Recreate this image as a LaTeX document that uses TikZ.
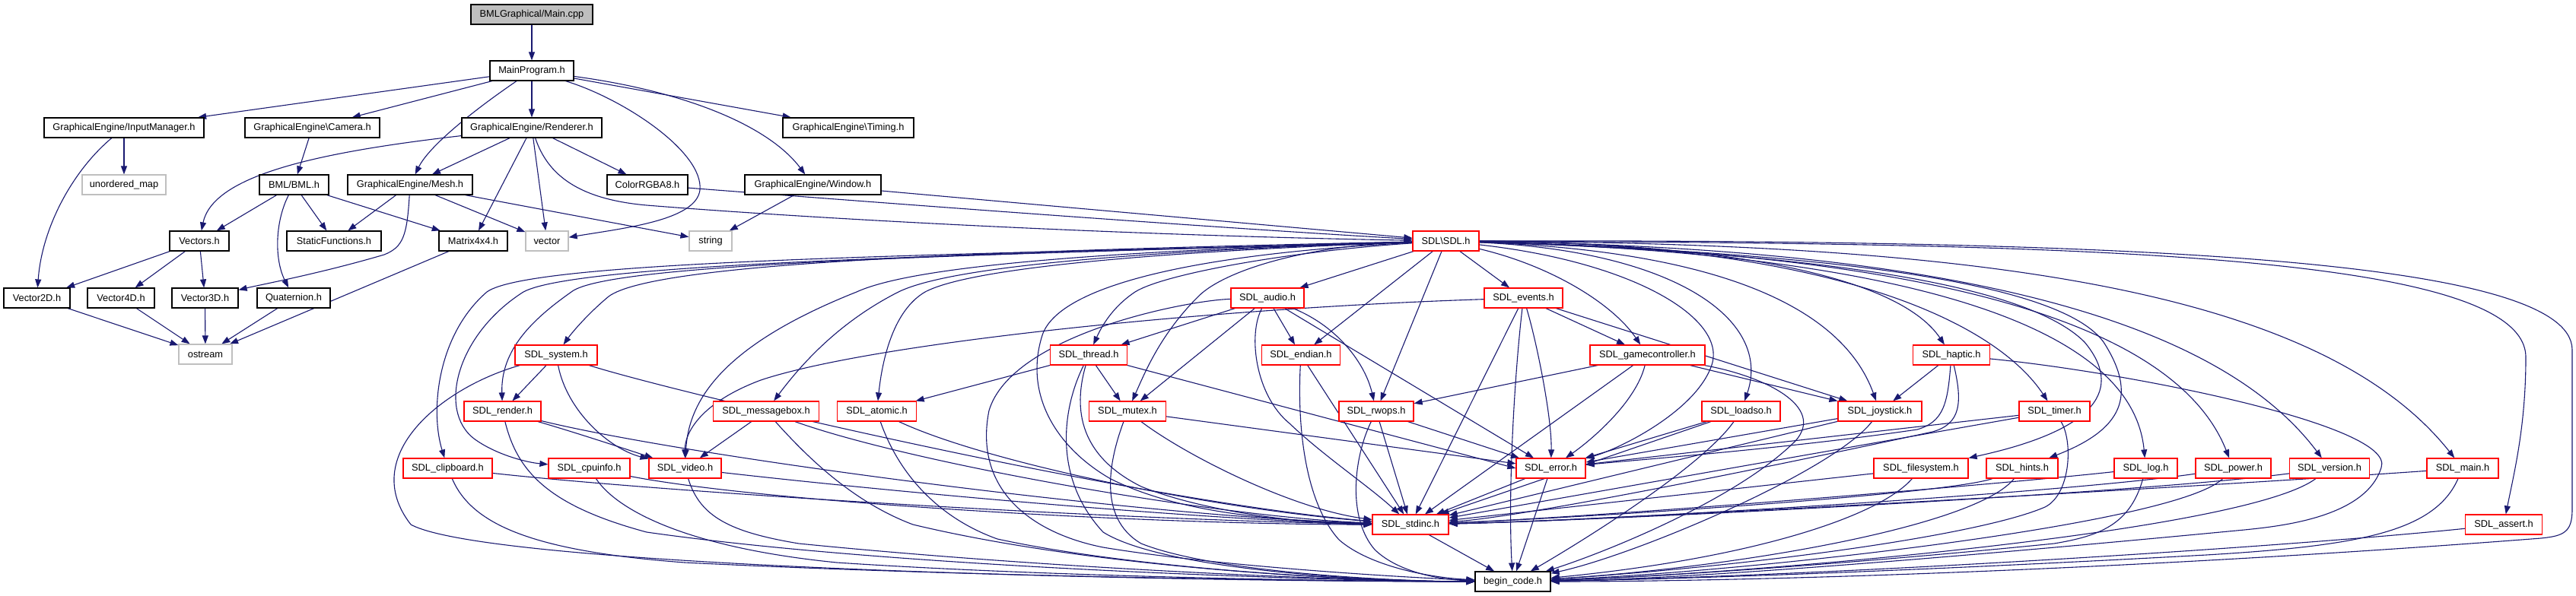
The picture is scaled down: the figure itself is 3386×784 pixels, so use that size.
\documentclass[tikz,border=0pt]{standalone}
\usepackage{fontspec}
\setmainfont{Liberation Sans}
\usetikzlibrary{arrows.meta,backgrounds}
\definecolor{edgec}{RGB}{25,25,112}
\definecolor{grayb}{RGB}{191,191,191}
\definecolor{redb}{RGB}{255,0,0}
\begin{document}
\begin{tikzpicture}[x=1pt,y=-1pt,
  nb/.style={draw=black,line width=1.2pt,fill=white,minimum height=26pt,inner sep=0pt,font=\fontsize{12.8pt}{15pt}\selectfont},
  rb/.style={nb,draw=redb},
  gb/.style={nb,draw=grayb},
  rootb/.style={nb,fill=grayb},
  wd/.style={minimum width=#1pt},
  e/.style={draw=edgec,line width=1.1pt,-{Triangle[length=11pt,width=8pt]}},
]
\useasboundingbox (0,0) rectangle (3386,784);
% ---- nodes ----
\node[rootb,wd=160] (root) at (699,19) {BMLGraphical/Main.cpp};
\node[nb,wd=110] (mp) at (699,93) {MainProgram.h};
\node[nb,wd=210] (inp) at (163,168) {GraphicalEngine/InputManager.h};
\node[nb,wd=177] (cam) at (410.5,168) {GraphicalEngine\textbackslash{}Camera.h};
\node[nb,wd=184] (ren) at (699,168) {GraphicalEngine/Renderer.h};
\node[nb,wd=172] (tim) at (1115,168) {GraphicalEngine\textbackslash{}Timing.h};
\node[gb,wd=110] (umap) at (163,243) {unordered\_map};
\node[nb,wd=91] (bml) at (386.5,243) {BML/BML.h};
\node[nb,wd=164] (mesh) at (539,243) {GraphicalEngine/Mesh.h};
\node[nb,wd=106] (col) at (851,243) {ColorRGBA8.h};
\node[nb,wd=179] (win) at (1068.5,243) {GraphicalEngine/Window.h};
\node[nb,wd=78] (vecs) at (262,317) {Vectors.h};
\node[nb,wd=124] (stat) at (439,317) {StaticFunctions.h};
\node[nb,wd=90] (mat) at (622,317) {Matrix4x4.h};
\node[gb,wd=56] (vec) at (719,317) {vector};
\node[gb,wd=56] (str) at (934,317) {string};
\node[rb,wd=87] (sdl) at (1900.5,317) {SDL\textbackslash{}SDL.h};
\node[nb,wd=87] (v2) at (48.5,392) {Vector2D.h};
\node[nb,wd=88] (v4) at (159,392) {Vector4D.h};
\node[nb,wd=87] (v3) at (269.5,392) {Vector3D.h};
\node[nb,wd=96] (quat) at (386,392) {Quaternion.h};
\node[gb,wd=70] (ostr) at (270,466) {ostream};
\node[rb,wd=96] (audio) at (1666,392) {SDL\_audio.h};
\node[rb,wd=103] (events) at (2002.5,392) {SDL\_events.h};
\node[rb,wd=108] (sys) at (731,467) {SDL\_system.h};
\node[rb,wd=101] (thread) at (1431,467) {SDL\_thread.h};
\node[rb,wd=103] (endian) at (1710,467) {SDL\_endian.h};
\node[rb,wd=151] (gc) at (2165.5,467) {SDL\_gamecontroller.h};
\node[rb,wd=101] (haptic) at (2565,467) {SDL\_haptic.h};
\node[rb,wd=101] (render) at (660.5,541) {SDL\_render.h};
\node[rb,wd=139] (msg) at (1007,541) {SDL\_messagebox.h};
\node[rb,wd=104] (atomic) at (1152.5,541) {SDL\_atomic.h};
\node[rb,wd=101] (mutex) at (1482,541) {SDL\_mutex.h};
\node[rb,wd=98] (rwops) at (1809,541) {SDL\_rwops.h};
\node[rb,wd=103] (loadso) at (2288.5,541) {SDL\_loadso.h};
\node[rb,wd=110] (joy) at (2471,541) {SDL\_joystick.h};
\node[rb,wd=93] (timer) at (2700.5,541) {SDL\_timer.h};
\node[rb,wd=117] (clip) at (588.5,616) {SDL\_clipboard.h};
\node[rb,wd=107] (cpu) at (774.5,616) {SDL\_cpuinfo.h};
\node[rb,wd=95] (video) at (900.5,616) {SDL\_video.h};
\node[rb,wd=91] (error) at (2038.5,616) {SDL\_error.h};
\node[rb,wd=124] (fs) at (2525,616) {SDL\_filesystem.h};
\node[rb,wd=94] (hints) at (2658,616) {SDL\_hints.h};
\node[rb,wd=83] (log) at (2820.5,616) {SDL\_log.h};
\node[rb,wd=99] (power) at (2935.5,616) {SDL\_power.h};
\node[rb,wd=105] (version) at (3062,616) {SDL\_version.h};
\node[rb,wd=94] (main) at (3237,616) {SDL\_main.h};
\node[rb,wd=100] (stdinc) at (1854,690) {SDL\_stdinc.h};
\node[rb,wd=101] (assert) at (3291,690) {SDL\_assert.h};
\node[nb,wd=99] (bc) at (1988.5,765) {begin\_code.h};
% ---- edges ----
\begin{pgfonlayer}{background}
\draw[e] (root) -- (mp);
\draw[e] (mp) -- (inp);
\draw[e] (mp) -- (cam);
\draw[e] (mp) -- (ren);
\draw[e] (mp) -- (tim);
\draw[e] (mp) .. controls (630,140) and (565,190) .. (mesh);
\draw[e] (mp) .. controls (900,120) and (1010,165) .. (win);
\draw[e] (mp) .. controls (820,130) and (925,200) .. (920,250) .. controls (915,290) and (820,300) .. (vec);
\draw[e] (inp) -- (umap);
\draw[e] (inp) .. controls (95,225) and (55,300) .. (v2);
\draw[e] (cam) -- (bml);
\draw[e] (ren) .. controls (420,200) and (280,230) .. (vecs);
\draw[e] (ren) -- (mesh);
\draw[e] (ren) -- (mat);
\draw[e] (ren) -- (vec);
\draw[e] (ren) -- (col);
\draw[e] (ren) .. controls (720,230) and (760,262) .. (850,270) .. controls (1100,290) and (1500,310) .. (sdl);
\draw[e] (bml) -- (vecs);
\draw[e] (bml) -- (stat);
\draw[e] (bml) -- (mat);
\draw[e] (bml) .. controls (362,290) and (360,340) .. (quat);
\draw[e] (mesh) -- (stat);
\draw[e] (mesh) .. controls (535,310) and (530,325) .. (505,335) .. controls (420,360) and (340,375) .. (v3);
\draw[e] (mesh) -- (vec);
\draw[e] (mesh) -- (str);
\draw[e] (col) .. controls (1200,270) and (1600,300) .. (sdl);
\draw[e] (win) -- (sdl);
\draw[e] (win) -- (str);
\draw[e] (vecs) -- (v2);
\draw[e] (vecs) -- (v4);
\draw[e] (vecs) -- (v3);
\draw[e] (v2) -- (ostr);
\draw[e] (v4) -- (ostr);
\draw[e] (v3) -- (ostr);
\draw[e] (quat) -- (ostr);
\draw[e] (mat) -- (ostr);
% SDL.h fan
\draw[e] (sdl) -- (audio);
\draw[e] (sdl) -- (endian);
\draw[e] (sdl) -- (rwops);
\draw[e] (sdl) -- (events);
\draw[e] (sdl) .. controls (2040,350) and (2120,400) .. (gc);
\draw[e] (sdl) .. controls (2150,345) and (2270,420) .. (2250,480) .. controls (2230,540) and (2130,590) .. (error);
\draw[e] (sdl) .. controls (2200,330) and (2330,420) .. (loadso);
\draw[e] (sdl) .. controls (2250,330) and (2420,400) .. (joy);
\draw[e] (sdl) .. controls (2300,320) and (2500,370) .. (haptic);
\draw[e] (sdl) .. controls (2400,320) and (2620,420) .. (timer);
\draw[e] (sdl) .. controls (2300,330) and (2650,360) .. (2740,450) .. controls (2790,510) and (2760,565) .. (fs);
\draw[e] (sdl) .. controls (2320,330) and (2700,360) .. (2765,450) .. controls (2810,520) and (2790,565) .. (hints);
\draw[e] (sdl) .. controls (2400,330) and (2800,400) .. (log);
\draw[e] (sdl) .. controls (2450,330) and (2850,400) .. (power);
\draw[e] (sdl) .. controls (2500,325) and (2900,400) .. (version);
\draw[e] (sdl) .. controls (2600,320) and (3050,380) .. (main);
\draw[e] (sdl) .. controls (2700,320) and (3320,330) .. (3320,470) .. controls (3320,560) and (3305,620) .. (assert);
\draw[e] (sdl) .. controls (2800,315) and (3380,340) .. (3381,460) -- (3381,670) .. controls (3381,700) and (3370,705) .. (3340,708) .. controls (2800,750) and (2300,765) .. (bc);
\draw[e] (sdl) .. controls (1700,330) and (1530,360) .. (1492,384) .. controls (1465,402) and (1450,425) .. (thread);
\draw[e] (sdl) .. controls (1720,322) and (1610,355) .. (1575,390) .. controls (1525,440) and (1505,490) .. (mutex);
\draw[e] (sdl) .. controls (1550,330) and (1280,350) .. (1216,384) .. controls (1175,408) and (1160,470) .. (atomic);
\draw[e] (sdl) .. controls (1500,330) and (1250,350) .. (1181,384) .. controls (1110,420) and (1060,470) .. (msg);
\draw[e] (sdl) .. controls (1450,330) and (1200,350) .. (1126,384) .. controls (960,450) and (905,520) .. (video);
\draw[e] (sdl) .. controls (1300,330) and (860,345) .. (800,390) .. controls (770,415) and (750,440) .. (sys);
\draw[e] (sdl) .. controls (1300,335) and (800,345) .. (751,384) .. controls (700,420) and (658,460) .. (render);
\draw[e] (sdl) .. controls (1300,335) and (760,345) .. (688,384) .. controls (600,440) and (575,540) .. (623,577) .. controls (650,597) and (690,608) .. (cpu);
\draw[e] (sdl) .. controls (1300,335) and (700,340) .. (640,384) .. controls (575,440) and (565,540) .. (clip);
\draw[e] (sdl) .. controls (1550,335) and (1390,380) .. (1370,441) .. controls (1345,520) and (1390,590) .. (1460,630) .. controls (1560,680) and (1700,685) .. (stdinc);
% audio
\draw[e] (audio) -- (thread);
\draw[e] (audio) -- (mutex);
\draw[e] (audio) -- (endian);
\draw[e] (audio) .. controls (1760,430) and (1795,480) .. (rwops);
\draw[e] (audio) -- (error);
\draw[e] (audio) .. controls (1640,440) and (1650,520) .. (1695,557) .. controls (1740,600) and (1800,640) .. (stdinc);
\draw[e] (audio) .. controls (1560,395) and (1330,440) .. (1300,540) .. controls (1280,640) and (1350,700) .. (1450,720) .. controls (1600,745) and (1850,760) .. (bc);
% endian, rwops
\draw[e] (endian) -- (stdinc);
\draw[e] (endian) .. controls (1705,560) and (1715,660) .. (1760,710) .. controls (1800,745) and (1880,760) .. (bc);
\draw[e] (rwops) -- (error);
\draw[e] (rwops) -- (stdinc);
\draw[e] (rwops) .. controls (1780,600) and (1770,680) .. (1807,723) .. controls (1840,755) and (1900,763) .. (bc);
% events
\draw[e] (events) .. controls (1600,405) and (1150,450) .. (1000,500) .. controls (920,530) and (900,570) .. (video);
\draw[e] (events) -- (joy);
\draw[e] (events) -- (gc);
\draw[e] (events) .. controls (2020,450) and (2040,550) .. (error);
\draw[e] (events) -- (stdinc);
\draw[e] (events) .. controls (1990,500) and (1982,650) .. (bc);
% gamecontroller
\draw[e] (gc) -- (rwops);
\draw[e] (gc) -- (stdinc);
\draw[e] (gc) .. controls (2150,530) and (2090,580) .. (error);
\draw[e] (gc) -- (joy);
\draw[e] (gc) .. controls (2320,495) and (2400,535) .. (2360,580) .. controls (2280,660) and (2100,730) .. (bc);
% loadso, joystick
\draw[e] (loadso) -- (error);
\draw[e] (loadso) -- (stdinc);
\draw[e] (loadso) .. controls (2240,610) and (2100,700) .. (bc);
\draw[e] (joy) -- (error);
\draw[e] (joy) -- (stdinc);
\draw[e] (joy) .. controls (2410,620) and (2150,730) .. (bc);
% haptic
\draw[e] (haptic) -- (joy);
\draw[e] (haptic) .. controls (2560,530) and (2555,555) .. (2520,565) .. controls (2350,590) and (2150,605) .. (error);
\draw[e] (haptic) .. controls (2580,530) and (2577,558) .. (2540,568) .. controls (2300,620) and (2000,680) .. (stdinc);
\draw[e] (haptic) .. controls (2800,490) and (3150,560) .. (3130,615) .. controls (3110,680) and (3000,692) .. (2950,697) .. controls (2500,740) and (2200,762) .. (bc);
% timer
\draw[e] (timer) -- (error);
\draw[e] (timer) -- (stdinc);
\draw[e] (timer) .. controls (2725,580) and (2722,650) .. (2688,667) .. controls (2600,705) and (2300,745) .. (bc);
% filesystem, hints, log, power, version, main, assert
\draw[e] (fs) -- (stdinc);
\draw[e] (fs) .. controls (2470,680) and (2300,735) .. (bc);
\draw[e] (hints) .. controls (2560,650) and (2100,680) .. (stdinc);
\draw[e] (hints) .. controls (2600,690) and (2300,745) .. (bc);
\draw[e] (log) .. controls (2600,640) and (2100,680) .. (stdinc);
\draw[e] (log) .. controls (2800,690) and (2760,705) .. (2700,715) .. controls (2400,745) and (2150,760) .. (bc);
\draw[e] (power) .. controls (2700,650) and (2100,685) .. (stdinc);
\draw[e] (power) .. controls (2860,690) and (2300,752) .. (bc);
\draw[e] (version) .. controls (2800,650) and (2100,685) .. (stdinc);
\draw[e] (version) .. controls (2950,700) and (2300,755) .. (bc);
\draw[e] (main) .. controls (2900,640) and (2100,685) .. (stdinc);
\draw[e] (main) .. controls (3200,700) and (3100,718) .. (2900,730) .. controls (2500,752) and (2200,762) .. (bc);
\draw[e] (assert) .. controls (3000,720) and (2400,758) .. (bc);
% error, stdinc
\draw[e] (error) -- (stdinc);
\draw[e] (error) -- (bc);
\draw[e] (stdinc) -- (bc);
% thread, mutex
\draw[e] (thread) -- (atomic);
\draw[e] (thread) -- (mutex);
\draw[e] (thread.south east) -- (error.west);
\draw[e] (thread) .. controls (1410,540) and (1420,600) .. (1500,640) .. controls (1600,680) and (1750,690) .. (stdinc);
\draw[e] (thread) .. controls (1395,540) and (1385,630) .. (1450,700) .. controls (1530,750) and (1800,765) .. (bc);
\draw[e] (mutex) -- (error);
\draw[e] (mutex) .. controls (1560,600) and (1700,670) .. (stdinc);
\draw[e] (mutex) .. controls (1460,600) and (1440,680) .. (1500,715) .. controls (1600,755) and (1850,765) .. (bc);
% atomic, messagebox, video
\draw[e] (atomic) .. controls (1300,610) and (1600,670) .. (stdinc);
\draw[e] (atomic) .. controls (1180,620) and (1230,680) .. (1311,709) .. controls (1500,750) and (1800,765) .. (bc);
\draw[e] (msg) -- (video);
\draw[e] (msg) .. controls (1200,610) and (1600,680) .. (stdinc);
\draw[e] (msg) .. controls (1060,600) and (1120,660) .. (1200,690) .. controls (1450,750) and (1800,765) .. (bc);
\draw[e] (video) .. controls (1200,650) and (1600,685) .. (stdinc);
\draw[e] (video) .. controls (920,680) and (960,700) .. (1050,715) .. controls (1400,750) and (1800,765) .. (bc);
% render, system, clipboard, cpuinfo
\draw[e] (render) .. controls (760,570) and (820,590) .. (video);
\draw[e] (render) .. controls (900,600) and (1500,680) .. (stdinc);
\draw[e] (render) .. controls (680,620) and (720,665) .. (850,700) .. controls (1200,750) and (1800,765) .. (bc);
\draw[e] (sys) -- (render);
\draw[e] (sys) .. controls (745,540) and (800,590) .. (video);
\draw[e] (sys) .. controls (900,520) and (1500,660) .. (stdinc);
\draw[e] (sys) .. controls (580,510) and (470,600) .. (540,690) .. controls (640,745) and (1500,765) .. (bc);
\draw[e] (clip) .. controls (900,650) and (1500,685) .. (stdinc);
\draw[e] (clip) .. controls (620,690) and (700,725) .. (900,740) .. controls (1300,760) and (1800,765) .. (bc);
\draw[e] (cpu) .. controls (1000,660) and (1500,690) .. (stdinc);
\draw[e] (cpu) .. controls (810,670) and (900,720) .. (1100,740) .. controls (1400,760) and (1800,765) .. (bc);
\end{pgfonlayer}
\end{tikzpicture}
\end{document}
